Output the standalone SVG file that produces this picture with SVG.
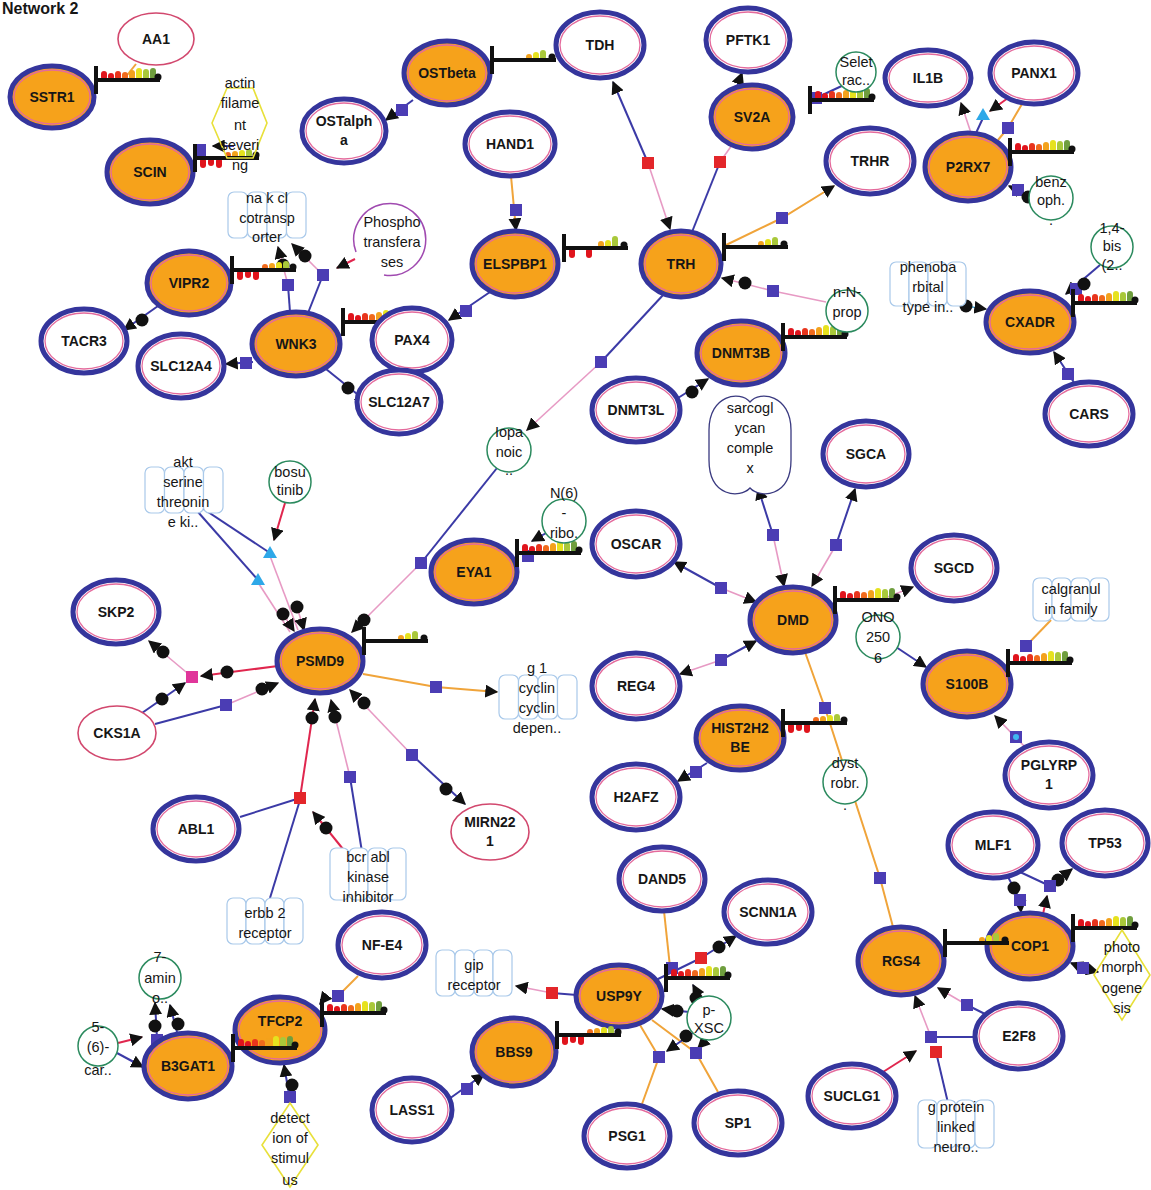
<svg xmlns="http://www.w3.org/2000/svg" width="1151" height="1190" viewBox="0 0 1151 1190">
<style>
text{font-family:"Liberation Sans",Arial,sans-serif;fill:#161616;text-anchor:middle}
.nl{font-size:14px;font-weight:bold}
.sl{font-size:14.5px}
.o{fill:#f6a21b;stroke:#35359c;stroke-width:5}
.w{fill:#fff;stroke:#35359c;stroke-width:5}
.pk{fill:none;stroke:#e46a9c;stroke-width:1.3}
.pt{fill:#fff;stroke:#d2486e;stroke-width:1.6}
.ch{fill:#fff;stroke:#2b8a5e;stroke-width:1.5}
.rc{fill:#fff;stroke:#a9c9ea;stroke-width:1.2}
.hx{fill:none;stroke:#e8e03a;stroke-width:1.6}
.eb{fill:none;stroke:#3b3aa6;stroke-width:2}
.ep{fill:none;stroke:#e79ac4;stroke-width:1.6}
.er{fill:none;stroke:#e0264e;stroke-width:2}
.eo{fill:none;stroke:#f0a43a;stroke-width:2}
.ec{fill:none;stroke:#4fb0e0;stroke-width:1.6}
.tc{fill:#2ea8e8}
.bk{stroke:#111;stroke-width:4;fill:none}
</style>
<defs>
<marker id="ar" viewBox="0 0 10 10" refX="9" refY="5" markerWidth="13" markerHeight="13" markerUnits="userSpaceOnUse" orient="auto"><path d="M0,0 L10,5 L0,10 z" fill="#111"/></marker>
<rect id="sq" x="-6" y="-6" width="12" height="12" fill="#4b3db4"/>
<rect id="sr" x="-6" y="-6" width="12" height="12" fill="#e3262a"/>
<rect id="sm" x="-6" y="-6" width="12" height="12" fill="#e0359a"/>
<circle id="dt" r="6.5" fill="#111"/>
<g id="barA">
<rect x="5" y="-9" width="6" height="9" rx="3" fill="#e0141c"/>
<rect x="12" y="-7" width="6" height="7" rx="3" fill="#e0141c"/>
<rect x="19" y="-9" width="6" height="9" rx="3" fill="#e8341c"/>
<rect x="26" y="-8" width="6" height="8" rx="3" fill="#f06a1c"/>
<rect x="33" y="-10" width="6" height="10" rx="3" fill="#f3a21c"/>
<rect x="40" y="-12" width="6" height="12" rx="3" fill="#e6e21e"/>
<rect x="47" y="-11" width="6" height="11" rx="3" fill="#a9c83a"/>
<rect x="54" y="-12" width="6" height="12" rx="3" fill="#6f9e3e"/>
<circle cx="62" cy="-3" r="3.5" fill="#111"/>
<path class="bk" d="M0,-14V14M0,0H64"/>
</g>
<g id="barB">
<rect x="5" y="0" width="6" height="10" rx="3" fill="#e0141c"/>
<rect x="13" y="0" width="6" height="8" rx="3" fill="#e0141c"/>
<rect x="21" y="0" width="6" height="10" rx="3" fill="#e0141c"/>
<rect x="30" y="-6" width="6" height="6" rx="3" fill="#f06a1c"/>
<rect x="37" y="-7" width="6" height="7" rx="3" fill="#f3a21c"/>
<rect x="44" y="-8" width="6" height="8" rx="3" fill="#e6e21e"/>
<rect x="51" y="-9" width="6" height="9" rx="3" fill="#a9c83a"/>
<circle cx="61" cy="-3" r="3.5" fill="#111"/>
<path class="bk" d="M0,-14V14M0,0H64"/>
</g>
<g id="barC">
<rect x="34" y="-6" width="6" height="6" rx="3" fill="#f3a21c"/>
<rect x="41" y="-8" width="6" height="8" rx="3" fill="#e6e21e"/>
<rect x="48" y="-10" width="6" height="10" rx="3" fill="#a9c83a"/>
<circle cx="60" cy="-3" r="3.5" fill="#111"/>
<path class="bk" d="M0,-14V14M0,0H64"/>
</g>
<g id="barD">
<rect x="5" y="0" width="6" height="10" rx="3" fill="#e0141c"/>
<rect x="22" y="0" width="6" height="10" rx="3" fill="#e0141c"/>
<rect x="34" y="-7" width="6" height="7" rx="3" fill="#f3a21c"/>
<rect x="41" y="-8" width="6" height="8" rx="3" fill="#e6e21e"/>
<rect x="48" y="-12" width="6" height="12" rx="3" fill="#a9c83a"/>
<circle cx="60" cy="-3" r="3.5" fill="#111"/>
<path class="bk" d="M0,-14V14M0,0H64"/>
</g>
</defs>
<rect width="1151" height="1190" fill="#fff"/>
<text x="2" y="14" style="font-size:16px;font-weight:bold;text-anchor:start">Network 2</text>

<g id="connectors">
<path class="eo" d="M136,64 L124,79"/>
<path class="eb" d="M234,146 L213,146" marker-end="url(#ar)"/>
<path class="eb" d="M413,100 L386,120" marker-end="url(#ar)"/>
<path class="eb" d="M648,163 L613,82" marker-end="url(#ar)"/>
<path class="ep" d="M648,163 L670,229" marker-end="url(#ar)"/>
<path class="eb" d="M692,232 L720,162"/>
<path class="ep" d="M720,162 L732,145"/>
<path class="eb" d="M733,97 L742,73" marker-end="url(#ar)"/>
<path class="eb" d="M846,84 L816,98"/>
<path class="eo" d="M724,246 L782,218 L834,186" marker-end="url(#ar)"/>
<path class="eo" d="M511,176 L516,230" marker-end="url(#ar)"/>
<path class="ep" d="M971,133 L961,103" marker-end="url(#ar)"/>
<path class="eb" d="M976,133 L983,118"/>
<path class="er" d="M1008,98 L990,111" marker-end="url(#ar)"/>
<path class="eo" d="M1022,104 L1008,128 L998,140"/>
<path class="eb" d="M1030,196 L1009,186" marker-end="url(#ar)"/>
<path class="eb" d="M1100,265 L1066,294" marker-end="url(#ar)"/>
<path class="ec" d="M958,305 L986,309" marker-end="url(#ar)"/>
<path class="eb" d="M1075,384 L1054,352" marker-end="url(#ar)"/>
<path class="ep" d="M826,302 L773,291 L722,278" marker-end="url(#ar)"/>
<path class="eb" d="M678,398 L708,379" marker-end="url(#ar)"/>
<path class="eb" d="M664,294 L601,362"/>
<path class="ep" d="M601,362 L527,430" marker-end="url(#ar)"/>
<path class="eb" d="M497,468 L421,563"/>
<path class="ep" d="M421,563 L352,632" marker-end="url(#ar)"/>
<path class="eb" d="M548,532 L532,541" marker-end="url(#ar)"/>
<path class="eb" d="M490,292 L449,320" marker-end="url(#ar)"/>
<path class="eb" d="M253,362 L226,364" marker-end="url(#ar)"/>
<path class="eb" d="M326,369 L367,402" marker-end="url(#ar)"/>
<path class="eb" d="M290,312 L288,285"/>
<path class="ep" d="M288,285 L278,247" marker-end="url(#ar)"/>
<path class="eb" d="M308,313 L323,275"/>
<path class="ep" d="M323,275 L292,244" marker-end="url(#ar)"/>
<path class="er" d="M355,259 L337,268" marker-end="url(#ar)"/>
<path class="eb" d="M158,306 L124,330" marker-end="url(#ar)"/>
<path class="eb" d="M202,508 L270,553"/>
<path class="eb" d="M198,512 L258,580"/>
<path class="er" d="M285,503 L274,540" marker-end="url(#ar)"/>
<path class="ep" d="M270,556 L298,630"/>
<path class="ep" d="M259,584 L290,632"/>
<path class="ep" d="M283,614 L294,631" marker-end="url(#ar)"/>
<path class="ep" d="M297,607 L304,630" marker-end="url(#ar)"/>
<path class="er" d="M278,666 L201,676" marker-end="url(#ar)"/>
<path class="ep" d="M192,677 L149,641" marker-end="url(#ar)"/>
<path class="eb" d="M142,713 L185,683" marker-end="url(#ar)"/>
<path class="eb" d="M155,724 L226,705"/>
<path class="ep" d="M226,705 L278,683" marker-end="url(#ar)"/>
<path class="er" d="M300,798 L315,699" marker-end="url(#ar)"/>
<path class="eb" d="M240,817 L300,798"/>
<path class="eb" d="M270,898 L300,800"/>
<path class="er" d="M347,854 L313,812" marker-end="url(#ar)"/>
<path class="eb" d="M362,852 L350,777"/>
<path class="ep" d="M350,777 L331,700" marker-end="url(#ar)"/>
<path class="ep" d="M412,755 L350,690" marker-end="url(#ar)"/>
<path class="eb" d="M412,755 L465,804" marker-end="url(#ar)"/>
<path class="eo" d="M363,674 L436,687 L497,692" marker-end="url(#ar)"/>
<path class="eb" d="M721,588 L674,562" marker-end="url(#ar)"/>
<path class="ep" d="M721,588 L756,602" marker-end="url(#ar)"/>
<path class="ep" d="M721,660 L680,674" marker-end="url(#ar)"/>
<path class="eb" d="M721,660 L756,641" marker-end="url(#ar)"/>
<path class="eb" d="M773,535 L758,488" marker-end="url(#ar)"/>
<path class="ep" d="M773,535 L784,586" marker-end="url(#ar)"/>
<path class="eb" d="M836,545 L855,489" marker-end="url(#ar)"/>
<path class="ep" d="M836,545 L812,586" marker-end="url(#ar)"/>
<path class="ep" d="M880,600 L913,587" marker-end="url(#ar)"/>
<path class="eo" d="M805,652 L825,708 L880,878 L893,927"/>
<path class="eb" d="M896,647 L926,667" marker-end="url(#ar)"/>
<path class="eo" d="M1051,620 L1026,646"/>
<path class="ep" d="M1025,747 L995,716" marker-end="url(#ar)"/>
<path class="eb" d="M707,763 L678,781" marker-end="url(#ar)"/>
<path class="eb" d="M449,1099 L484,1074" marker-end="url(#ar)"/>
<path class="eo" d="M664,911 L670,967"/>
<path class="eb" d="M656,980 L701,958"/>
<path class="eb" d="M701,958 L736,936" marker-end="url(#ar)"/>
<path class="eb" d="M577,995 L552,993"/>
<path class="ep" d="M552,993 L516,986" marker-end="url(#ar)"/>
<path class="eo" d="M640,1025 L659,1057 L642,1104"/>
<path class="eo" d="M652,1020 L696,1053 L718,1092"/>
<path class="eb" d="M689,1012 L662,1009" marker-end="url(#ar)"/>
<path class="eb" d="M694,1032 L667,1051" marker-end="url(#ar)"/>
<path class="eb" d="M700,998 L693,985" marker-end="url(#ar)"/>
<path class="eb" d="M707,1039 L698,1048" marker-end="url(#ar)"/>
<path class="eb" d="M985,1014 L967,1005"/>
<path class="ep" d="M967,1005 L938,988" marker-end="url(#ar)"/>
<path class="eb" d="M975,1037 L931,1037"/>
<path class="ep" d="M931,1037 L915,996" marker-end="url(#ar)"/>
<path class="er" d="M883,1072 L916,1051" marker-end="url(#ar)"/>
<path class="eb" d="M948,1103 L936,1052"/>
<path class="eb" d="M1006,873 L1020,900 L1021,912" marker-end="url(#ar)"/>
<path class="eb" d="M1020,872 L1050,886"/>
<path class="eb" d="M1050,886 L1072,869" marker-end="url(#ar)"/>
<path class="er" d="M1043,914 L1047,896" marker-end="url(#ar)"/>
<path class="eb" d="M1083,968 L1071,963" marker-end="url(#ar)"/>
<path class="eb" d="M1083,968 L1098,972" marker-end="url(#ar)"/>
<path class="eb" d="M157,1038 L155,1003" marker-end="url(#ar)"/>
<path class="eb" d="M178,1036 L170,1005" marker-end="url(#ar)"/>
<path class="er" d="M118,1043 L142,1037" marker-end="url(#ar)"/>
<path class="eb" d="M117,1053 L143,1067" marker-end="url(#ar)"/>
<path class="eo" d="M358,976 L338,996"/>
<path class="eb" d="M290,1100 L284,1065" marker-end="url(#ar)"/>
<path class="eb" d="M327,995 L320,1004" marker-end="url(#ar)"/>
<polygon class="tc" points="270,546 277,558 263,558"/>
<polygon class="tc" points="258,573 265,585 251,585"/>
<polygon class="tc" points="983,108 990,120 976,120"/>
<use href="#sq" x="200" y="150"/>
<use href="#sq" x="402" y="110"/>
<use href="#sr" x="648" y="163"/>
<use href="#sr" x="720" y="162"/>
<use href="#dt" x="734" y="94"/>
<use href="#sq" x="816" y="98"/>
<use href="#sq" x="782" y="218"/>
<use href="#sq" x="516" y="210"/>
<use href="#sq" x="1008" y="128"/>
<use href="#sq" x="1018" y="190"/>
<use href="#dt" x="1028" y="197"/>
<use href="#sq" x="1076" y="289"/>
<use href="#dt" x="1084" y="284"/>
<use href="#dt" x="966" y="306"/>
<use href="#sq" x="1068" y="374"/>
<use href="#sq" x="773" y="291"/>
<use href="#dt" x="745" y="283"/>
<use href="#dt" x="692" y="392"/>
<use href="#sq" x="601" y="362"/>
<use href="#sq" x="421" y="563"/>
<use href="#dt" x="364" y="620"/>
<use href="#sq" x="466" y="311"/>
<use href="#sq" x="246" y="363"/>
<use href="#dt" x="348" y="388"/>
<use href="#sq" x="288" y="285"/>
<use href="#dt" x="283" y="265"/>
<use href="#sq" x="323" y="275"/>
<use href="#dt" x="305" y="256"/>
<use href="#dt" x="142" y="320"/>
<use href="#dt" x="283" y="614"/>
<use href="#dt" x="297" y="607"/>
<use href="#sm" x="192" y="677"/>
<use href="#dt" x="227" y="672"/>
<use href="#dt" x="163" y="652"/>
<use href="#dt" x="162" y="699"/>
<use href="#sq" x="226" y="705"/>
<use href="#dt" x="262" y="689"/>
<use href="#sr" x="300" y="798"/>
<use href="#dt" x="312" y="718"/>
<use href="#dt" x="326" y="828"/>
<use href="#sq" x="350" y="777"/>
<use href="#dt" x="335" y="717"/>
<use href="#sq" x="412" y="755"/>
<use href="#dt" x="364" y="703"/>
<use href="#dt" x="446" y="789"/>
<use href="#sq" x="436" y="687"/>
<use href="#sq" x="528" y="556"/>
<use href="#sq" x="721" y="588"/>
<use href="#sq" x="721" y="660"/>
<use href="#sq" x="773" y="535"/>
<use href="#sq" x="836" y="545"/>
<use href="#sq" x="825" y="708"/>
<use href="#sq" x="880" y="878"/>
<use href="#sq" x="1026" y="646"/>
<use href="#sq" x="1016" y="737"/>
<circle cx="1016" cy="737" r="3" fill="#3fb6f0"/>
<use href="#sq" x="696" y="772"/>
<use href="#sq" x="467" y="1089"/>
<use href="#sq" x="672" y="968"/>
<use href="#sr" x="701" y="958"/>
<use href="#dt" x="719" y="947"/>
<use href="#sr" x="552" y="993"/>
<use href="#sq" x="659" y="1057"/>
<use href="#sq" x="696" y="1053"/>
<use href="#dt" x="677" y="1011"/>
<use href="#dt" x="686" y="1036"/>
<use href="#dt" x="696" y="998"/>
<use href="#sq" x="967" y="1005"/>
<use href="#sq" x="931" y="1037"/>
<use href="#sr" x="936" y="1052"/>
<use href="#dt" x="1014" y="888"/>
<use href="#sq" x="1020" y="900"/>
<use href="#dt" x="1058" y="880"/>
<use href="#sq" x="1050" y="886"/>
<use href="#sq" x="1083" y="968"/>
<use href="#dt" x="155" y="1026"/>
<use href="#dt" x="178" y="1024"/>
<use href="#sq" x="157" y="1040"/>
<use href="#sq" x="338" y="996"/>
<use href="#dt" x="292" y="1085"/>
<use href="#sq" x="290" y="1097"/>
</g>

<g id="nodes">
<g id="n-AA1"><ellipse class="pt" cx="156" cy="39" rx="38" ry="26"/><text class="nl" x="156" y="44">AA1</text></g>
<g id="n-SSTR1"><ellipse class="o" cx="52" cy="97" rx="42" ry="31"/><ellipse class="pk" cx="52" cy="97" rx="38" ry="27"/><text class="nl" x="52" y="102">SSTR1</text><use href="#barA" x="96" y="80"/></g>
<g id="n-SCIN"><ellipse class="o" cx="150" cy="172" rx="43" ry="32"/><ellipse class="pk" cx="150" cy="172" rx="39" ry="28"/><text class="nl" x="150" y="177">SCIN</text><use href="#barB" x="195" y="158"/></g>
<g id="n-OSTbeta"><ellipse class="o" cx="447" cy="73" rx="43" ry="32"/><ellipse class="pk" cx="447" cy="73" rx="39" ry="28"/><text class="nl" x="447" y="78">OSTbeta</text><use href="#barC" x="492" y="60"/></g>
<g id="n-OSTalpha"><ellipse class="w" cx="344" cy="131" rx="42" ry="32"/><ellipse class="pk" cx="344" cy="131" rx="38" ry="28"/><text class="nl" x="344" y="126">OSTalph</text><text class="nl" x="344" y="145">a</text></g>
<g id="n-TDH"><ellipse class="w" cx="600" cy="45" rx="44" ry="33"/><ellipse class="pk" cx="600" cy="45" rx="40" ry="29"/><text class="nl" x="600" y="50">TDH</text></g>
<g id="n-PFTK1"><ellipse class="w" cx="748" cy="40" rx="42" ry="32"/><ellipse class="pk" cx="748" cy="40" rx="38" ry="28"/><text class="nl" x="748" y="45">PFTK1</text></g>
<g id="n-SV2A"><ellipse class="o" cx="752" cy="117" rx="41" ry="32"/><ellipse class="pk" cx="752" cy="117" rx="37" ry="28"/><text class="nl" x="752" y="122">SV2A</text><use href="#barA" x="810" y="100"/></g>
<g id="n-HAND1"><ellipse class="w" cx="510" cy="144" rx="45" ry="32"/><ellipse class="pk" cx="510" cy="144" rx="41" ry="28"/><text class="nl" x="510" y="149">HAND1</text></g>
<g id="n-IL1B"><ellipse class="w" cx="928" cy="78" rx="43" ry="28"/><ellipse class="pk" cx="928" cy="78" rx="39" ry="24"/><text class="nl" x="928" y="83">IL1B</text></g>
<g id="n-PANX1"><ellipse class="w" cx="1034" cy="73" rx="44" ry="31"/><ellipse class="pk" cx="1034" cy="73" rx="40" ry="27"/><text class="nl" x="1034" y="78">PANX1</text></g>
<g id="n-TRHR"><ellipse class="w" cx="870" cy="161" rx="44" ry="33"/><ellipse class="pk" cx="870" cy="161" rx="40" ry="29"/><text class="nl" x="870" y="166">TRHR</text></g>
<g id="n-P2RX7"><ellipse class="o" cx="968" cy="167" rx="43" ry="34"/><ellipse class="pk" cx="968" cy="167" rx="39" ry="30"/><text class="nl" x="968" y="172">P2RX7</text><use href="#barA" x="1010" y="152"/></g>
<g id="n-ELSPBP1"><ellipse class="o" cx="515" cy="264" rx="43" ry="33"/><ellipse class="pk" cx="515" cy="264" rx="39" ry="29"/><text class="nl" x="515" y="269">ELSPBP1</text><use href="#barD" x="564" y="248"/></g>
<g id="n-TRH"><ellipse class="o" cx="681" cy="264" rx="40" ry="33"/><ellipse class="pk" cx="681" cy="264" rx="36" ry="29"/><text class="nl" x="681" y="269">TRH</text><use href="#barC" x="724" y="247"/></g>
<g id="n-VIPR2"><ellipse class="o" cx="189" cy="283" rx="42" ry="32"/><ellipse class="pk" cx="189" cy="283" rx="38" ry="28"/><text class="nl" x="189" y="288">VIPR2</text><use href="#barB" x="232" y="270"/></g>
<g id="n-TACR3"><ellipse class="w" cx="84" cy="341" rx="43" ry="32"/><ellipse class="pk" cx="84" cy="341" rx="39" ry="28"/><text class="nl" x="84" y="346">TACR3</text></g>
<g id="n-SLC12A4"><ellipse class="w" cx="181" cy="366" rx="43" ry="32"/><ellipse class="pk" cx="181" cy="366" rx="39" ry="28"/><text class="nl" x="181" y="371">SLC12A4</text></g>
<g id="n-WNK3"><ellipse class="o" cx="296" cy="344" rx="44" ry="32"/><ellipse class="pk" cx="296" cy="344" rx="40" ry="28"/><text class="nl" x="296" y="349">WNK3</text><use href="#barA" x="343" y="322"/></g>
<g id="n-PAX4"><ellipse class="w" cx="412" cy="340" rx="40" ry="32"/><ellipse class="pk" cx="412" cy="340" rx="36" ry="28"/><text class="nl" x="412" y="345">PAX4</text></g>
<g id="n-SLC12A7"><ellipse class="w" cx="399" cy="402" rx="42" ry="32"/><ellipse class="pk" cx="399" cy="402" rx="38" ry="28"/><text class="nl" x="399" y="407">SLC12A7</text></g>
<g id="n-DNMT3B"><ellipse class="o" cx="741" cy="353" rx="44" ry="32"/><ellipse class="pk" cx="741" cy="353" rx="40" ry="28"/><text class="nl" x="741" y="358">DNMT3B</text><use href="#barA" x="783" y="337"/></g>
<g id="n-DNMT3L"><ellipse class="w" cx="636" cy="410" rx="44" ry="32"/><ellipse class="pk" cx="636" cy="410" rx="40" ry="28"/><text class="nl" x="636" y="415">DNMT3L</text></g>
<g id="n-CXADR"><ellipse class="o" cx="1030" cy="322" rx="44" ry="31"/><ellipse class="pk" cx="1030" cy="322" rx="40" ry="27"/><text class="nl" x="1030" y="327">CXADR</text><use href="#barA" x="1073" y="303"/></g>
<g id="n-CARS"><ellipse class="w" cx="1089" cy="414" rx="44" ry="32"/><ellipse class="pk" cx="1089" cy="414" rx="40" ry="28"/><text class="nl" x="1089" y="419">CARS</text></g>
<g id="n-SGCA"><ellipse class="w" cx="866" cy="454" rx="43" ry="33"/><ellipse class="pk" cx="866" cy="454" rx="39" ry="29"/><text class="nl" x="866" y="459">SGCA</text></g>
<g id="n-SGCD"><ellipse class="w" cx="954" cy="568" rx="43" ry="33"/><ellipse class="pk" cx="954" cy="568" rx="39" ry="29"/><text class="nl" x="954" y="573">SGCD</text></g>
<g id="n-OSCAR"><ellipse class="w" cx="636" cy="544" rx="44" ry="33"/><ellipse class="pk" cx="636" cy="544" rx="40" ry="29"/><text class="nl" x="636" y="549">OSCAR</text></g>
<g id="n-EYA1"><ellipse class="o" cx="474" cy="572" rx="43" ry="32"/><ellipse class="pk" cx="474" cy="572" rx="39" ry="28"/><text class="nl" x="474" y="577">EYA1</text><use href="#barA" x="517" y="553"/></g>
<g id="n-SKP2"><ellipse class="w" cx="116" cy="612" rx="43" ry="32"/><ellipse class="pk" cx="116" cy="612" rx="39" ry="28"/><text class="nl" x="116" y="617">SKP2</text></g>
<g id="n-CKS1A"><ellipse class="pt" cx="117" cy="733" rx="39" ry="27"/><text class="nl" x="117" y="738">CKS1A</text></g>
<g id="n-PSMD9"><ellipse class="o" cx="320" cy="661" rx="43" ry="32"/><ellipse class="pk" cx="320" cy="661" rx="39" ry="28"/><text class="nl" x="320" y="666">PSMD9</text><use href="#barC" x="364" y="641"/></g>
<g id="n-ABL1"><ellipse class="w" cx="196" cy="829" rx="43" ry="32"/><ellipse class="pk" cx="196" cy="829" rx="39" ry="28"/><text class="nl" x="196" y="834">ABL1</text></g>
<g id="n-MIRN221"><ellipse class="pt" cx="490" cy="832" rx="39" ry="28"/><text class="nl" x="490" y="827">MIRN22</text><text class="nl" x="490" y="846">1</text></g>
<g id="n-DMD"><ellipse class="o" cx="793" cy="620" rx="43" ry="33"/><ellipse class="pk" cx="793" cy="620" rx="39" ry="29"/><text class="nl" x="793" y="625">DMD</text><use href="#barA" x="835" y="600"/></g>
<g id="n-REG4"><ellipse class="w" cx="636" cy="686" rx="44" ry="33"/><ellipse class="pk" cx="636" cy="686" rx="40" ry="29"/><text class="nl" x="636" y="691">REG4</text></g>
<g id="n-S100B"><ellipse class="o" cx="967" cy="684" rx="44" ry="33"/><ellipse class="pk" cx="967" cy="684" rx="40" ry="29"/><text class="nl" x="967" y="689">S100B</text><use href="#barA" x="1008" y="663"/></g>
<g id="n-HIST2H2BE"><ellipse class="o" cx="740" cy="738" rx="44" ry="32"/><ellipse class="pk" cx="740" cy="738" rx="40" ry="28"/><text class="nl" x="740" y="733">HIST2H2</text><text class="nl" x="740" y="752">BE</text><use href="#barB" x="783" y="723"/></g>
<g id="n-H2AFZ"><ellipse class="w" cx="636" cy="797" rx="44" ry="33"/><ellipse class="pk" cx="636" cy="797" rx="40" ry="29"/><text class="nl" x="636" y="802">H2AFZ</text></g>
<g id="n-PGLYRP1"><ellipse class="w" cx="1049" cy="775" rx="44" ry="33"/><ellipse class="pk" cx="1049" cy="775" rx="40" ry="29"/><text class="nl" x="1049" y="770">PGLYRP</text><text class="nl" x="1049" y="789">1</text></g>
<g id="n-MLF1"><ellipse class="w" cx="993" cy="845" rx="45" ry="33"/><ellipse class="pk" cx="993" cy="845" rx="41" ry="29"/><text class="nl" x="993" y="850">MLF1</text></g>
<g id="n-TP53"><ellipse class="w" cx="1105" cy="843" rx="43" ry="33"/><ellipse class="pk" cx="1105" cy="843" rx="39" ry="29"/><text class="nl" x="1105" y="848">TP53</text></g>
<g id="n-DAND5"><ellipse class="w" cx="662" cy="879" rx="43" ry="32"/><ellipse class="pk" cx="662" cy="879" rx="39" ry="28"/><text class="nl" x="662" y="884">DAND5</text></g>
<g id="n-SCNN1A"><ellipse class="w" cx="768" cy="912" rx="44" ry="32"/><ellipse class="pk" cx="768" cy="912" rx="40" ry="28"/><text class="nl" x="768" y="917">SCNN1A</text></g>
<g id="n-NF-E4"><ellipse class="w" cx="382" cy="945" rx="44" ry="33"/><ellipse class="pk" cx="382" cy="945" rx="40" ry="29"/><text class="nl" x="382" y="950">NF-E4</text></g>
<g id="n-TFCP2"><ellipse class="o" cx="280" cy="1030" rx="45" ry="33"/><ellipse class="pk" cx="280" cy="1030" rx="41" ry="29"/><text class="nl" x="280" y="1026">TFCP2</text><use href="#barA" x="322" y="1013"/></g>
<g id="n-B3GAT1"><ellipse class="o" cx="188" cy="1066" rx="44" ry="33"/><ellipse class="pk" cx="188" cy="1066" rx="40" ry="29"/><text class="nl" x="188" y="1071">B3GAT1</text><use href="#barA" x="233" y="1048"/></g>
<g id="n-USP9Y"><ellipse class="o" cx="619" cy="996" rx="43" ry="31"/><ellipse class="pk" cx="619" cy="996" rx="39" ry="27"/><text class="nl" x="619" y="1001">USP9Y</text><use href="#barA" x="666" y="978"/></g>
<g id="n-BBS9"><ellipse class="o" cx="514" cy="1052" rx="42" ry="34"/><ellipse class="pk" cx="514" cy="1052" rx="38" ry="30"/><text class="nl" x="514" y="1057">BBS9</text><use href="#barB" x="557" y="1035"/></g>
<g id="n-LASS1"><ellipse class="w" cx="412" cy="1110" rx="40" ry="32"/><ellipse class="pk" cx="412" cy="1110" rx="36" ry="28"/><text class="nl" x="412" y="1115">LASS1</text></g>
<g id="n-PSG1"><ellipse class="w" cx="627" cy="1136" rx="43" ry="32"/><ellipse class="pk" cx="627" cy="1136" rx="39" ry="28"/><text class="nl" x="627" y="1141">PSG1</text></g>
<g id="n-SP1"><ellipse class="w" cx="738" cy="1123" rx="44" ry="32"/><ellipse class="pk" cx="738" cy="1123" rx="40" ry="28"/><text class="nl" x="738" y="1128">SP1</text></g>
<g id="n-COP1"><ellipse class="o" cx="1030" cy="946" rx="43" ry="33"/><ellipse class="pk" cx="1030" cy="946" rx="39" ry="29"/><text class="nl" x="1030" y="951">COP1</text><use href="#barA" x="1073" y="928"/></g>
<g id="n-RGS4"><ellipse class="o" cx="901" cy="961" rx="43" ry="34"/><ellipse class="pk" cx="901" cy="961" rx="39" ry="30"/><text class="nl" x="901" y="966">RGS4</text><use href="#barC" x="945" y="943"/></g>
<g id="n-E2F8"><ellipse class="w" cx="1019" cy="1036" rx="44" ry="33"/><ellipse class="pk" cx="1019" cy="1036" rx="40" ry="29"/><text class="nl" x="1019" y="1041">E2F8</text></g>
<g id="n-SUCLG1"><ellipse class="w" cx="852" cy="1096" rx="44" ry="32"/><ellipse class="pk" cx="852" cy="1096" rx="40" ry="28"/><text class="nl" x="852" y="1101">SUCLG1</text></g>

<g id="c-selet"><circle class="ch" cx="856" cy="72" r="20"/><text class="sl" x="856" y="67">Selet</text><text class="sl" x="856" y="85">rac..</text></g>
<g id="c-benz"><circle class="ch" cx="1051" cy="198" r="22"/><text class="sl" x="1051" y="187">benz</text><text class="sl" x="1051" y="205">oph.</text><text class="sl" x="1051" y="225">.</text></g>
<g id="c-bis"><circle class="ch" cx="1112" cy="247" r="21"/><text class="sl" x="1112" y="233">1,4-</text><text class="sl" x="1112" y="251">bis</text><text class="sl" x="1112" y="270">(2..</text></g>
<g id="c-nnprop"><circle class="ch" cx="847" cy="311" r="21"/><text class="sl" x="847" y="297">n-N-</text><text class="sl" x="847" y="317">prop</text><text class="sl" x="847" y="336">.</text></g>
<g id="c-iopanoic"><circle class="ch" cx="509" cy="450" r="22"/><text class="sl" x="509" y="437">Iopa</text><text class="sl" x="509" y="457">noic</text><text class="sl" x="509" y="475">..</text></g>
<g id="c-n6"><circle class="ch" cx="564" cy="521" r="22"/><text class="sl" x="564" y="498">N(6)</text><text class="sl" x="564" y="518">-</text><text class="sl" x="564" y="538">ribo.</text></g>
<g id="c-bosutinib"><circle class="ch" cx="290" cy="482" r="21"/><text class="sl" x="290" y="477">bosu</text><text class="sl" x="290" y="495">tinib</text></g>
<g id="c-ono"><circle class="ch" cx="878" cy="637" r="22"/><text class="sl" x="878" y="622">ONO</text><text class="sl" x="878" y="642">250</text><text class="sl" x="878" y="663">6</text></g>
<g id="c-dyst"><circle class="ch" cx="845" cy="782" r="22"/><text class="sl" x="845" y="768">dyst</text><text class="sl" x="845" y="788">robr.</text><text class="sl" x="845" y="810">.</text></g>
<g id="c-amino"><circle class="ch" cx="160" cy="978" r="21"/><text class="sl" x="160" y="962">7-</text><text class="sl" x="160" y="983">amin</text><text class="sl" x="160" y="1003">o..</text></g>
<g id="c-car"><circle class="ch" cx="98" cy="1046" r="20"/><text class="sl" x="98" y="1032">5-</text><text class="sl" x="98" y="1052">(6)-</text><text class="sl" x="98" y="1075">car..</text></g>
<g id="c-pxsc"><circle class="ch" cx="709" cy="1018" r="22"/><text class="sl" x="709" y="1015">p-</text><text class="sl" x="709" y="1033">XSC</text></g>

<g id="r-nakcl"><rect class="rc" x="228" y="192" width="19.5" height="46" rx="6"/><rect class="rc" x="247.5" y="192" width="19.5" height="46" rx="6"/><rect class="rc" x="267" y="192" width="19.5" height="46" rx="6"/><rect class="rc" x="286.5" y="192" width="19.5" height="46" rx="6"/><text class="sl" x="267" y="203">na k cl</text><text class="sl" x="267" y="223">cotransp</text><text class="sl" x="267" y="242">orter</text></g>
<g id="r-pheno"><rect class="rc" x="890" y="262" width="19" height="44" rx="6"/><rect class="rc" x="909" y="262" width="19" height="44" rx="6"/><rect class="rc" x="928" y="262" width="19" height="44" rx="6"/><rect class="rc" x="947" y="262" width="19" height="44" rx="6"/><text class="sl" x="928" y="272">phenoba</text><text class="sl" x="928" y="292">rbital</text><text class="sl" x="928" y="312">type in..</text></g>
<g id="r-akt"><rect class="rc" x="145" y="467" width="19.5" height="46" rx="6"/><rect class="rc" x="164.5" y="467" width="19.5" height="46" rx="6"/><rect class="rc" x="184" y="467" width="19.5" height="46" rx="6"/><rect class="rc" x="203.5" y="467" width="19.5" height="46" rx="6"/><text class="sl" x="183" y="467">akt</text><text class="sl" x="183" y="487">serine</text><text class="sl" x="183" y="507">threonin</text><text class="sl" x="183" y="527">e ki..</text></g>
<g id="r-g1"><rect class="rc" x="499" y="675" width="19.5" height="44" rx="6"/><rect class="rc" x="518.5" y="675" width="19.5" height="44" rx="6"/><rect class="rc" x="538" y="675" width="19.5" height="44" rx="6"/><rect class="rc" x="557.5" y="675" width="19.5" height="44" rx="6"/><text class="sl" x="537" y="673">g 1</text><text class="sl" x="537" y="693">cyclin</text><text class="sl" x="537" y="713">cyclin</text><text class="sl" x="537" y="733">depen..</text></g>
<g id="r-bcrabl"><rect class="rc" x="330" y="848" width="19" height="52" rx="6"/><rect class="rc" x="349" y="848" width="19" height="52" rx="6"/><rect class="rc" x="368" y="848" width="19" height="52" rx="6"/><rect class="rc" x="387" y="848" width="19" height="52" rx="6"/><text class="sl" x="368" y="862">bcr abl</text><text class="sl" x="368" y="882">kinase</text><text class="sl" x="368" y="902">inhibitor</text></g>
<g id="r-erbb2"><rect class="rc" x="227" y="898" width="19" height="46" rx="6"/><rect class="rc" x="246" y="898" width="19" height="46" rx="6"/><rect class="rc" x="265" y="898" width="19" height="46" rx="6"/><rect class="rc" x="284" y="898" width="19" height="46" rx="6"/><text class="sl" x="265" y="918">erbb 2</text><text class="sl" x="265" y="938">receptor</text></g>
<g id="r-gip"><rect class="rc" x="436" y="950" width="19" height="46" rx="6"/><rect class="rc" x="455" y="950" width="19" height="46" rx="6"/><rect class="rc" x="474" y="950" width="19" height="46" rx="6"/><rect class="rc" x="493" y="950" width="19" height="46" rx="6"/><text class="sl" x="474" y="970">gip</text><text class="sl" x="474" y="990">receptor</text></g>
<g id="r-calgranulin"><rect class="rc" x="1033" y="578" width="19" height="43" rx="6"/><rect class="rc" x="1052" y="578" width="19" height="43" rx="6"/><rect class="rc" x="1071" y="578" width="19" height="43" rx="6"/><rect class="rc" x="1090" y="578" width="19" height="43" rx="6"/><text class="sl" x="1071" y="594">calgranul</text><text class="sl" x="1071" y="614">in family</text></g>
<g id="r-gprotein"><rect class="rc" x="918" y="1100" width="19" height="48" rx="6"/><rect class="rc" x="937" y="1100" width="19" height="48" rx="6"/><rect class="rc" x="956" y="1100" width="19" height="48" rx="6"/><rect class="rc" x="975" y="1100" width="19" height="48" rx="6"/><text class="sl" x="956" y="1112">g protein</text><text class="sl" x="956" y="1132">linked</text><text class="sl" x="956" y="1152">neuro..</text></g>

<g id="p-actin"><polygon class="hx" points="212,123 227,88 253,88 267,123 253,158 227,158"/><text class="sl" x="240" y="88">actin</text><text class="sl" x="240" y="108">filame</text><text class="sl" x="240" y="130">nt</text><text class="sl" x="240" y="150">severi</text><text class="sl" x="240" y="170">ng</text></g>
<g id="p-photo"><polygon class="hx" points="1122,930 1150,975 1122,1020 1094,975"/><text class="sl" x="1122" y="952">photo</text><text class="sl" x="1122" y="972">morph</text><text class="sl" x="1122" y="993">ogene</text><text class="sl" x="1122" y="1013">sis</text></g>
<g id="p-detect"><polygon class="hx" points="290,1103 318,1145 290,1187 262,1145"/><text class="sl" x="290" y="1123">detect</text><text class="sl" x="290" y="1143">ion of</text><text class="sl" x="290" y="1163">stimul</text><text class="sl" x="290" y="1185">us</text></g>
<g id="f-phospho"><path d="M356,252 A36,36 0 1,1 384,275" fill="none" stroke="#a04ab0" stroke-width="1.5"/><text class="sl" x="392" y="227">Phospho</text><text class="sl" x="392" y="247">transfera</text><text class="sl" x="392" y="267">ses</text></g>
<g id="f-sarco"><path d="M750,402 C740,390 709,395 709,430 L709,460 C709,497 740,499 750,488 C760,499 791,497 791,460 L791,430 C791,395 760,390 750,402 Z" fill="#fff" stroke="#3a3a80" stroke-width="1.3"/><text class="sl" x="750" y="413">sarcogl</text><text class="sl" x="750" y="433">ycan</text><text class="sl" x="750" y="453">comple</text><text class="sl" x="750" y="473">x</text></g>
</g>
</svg>
